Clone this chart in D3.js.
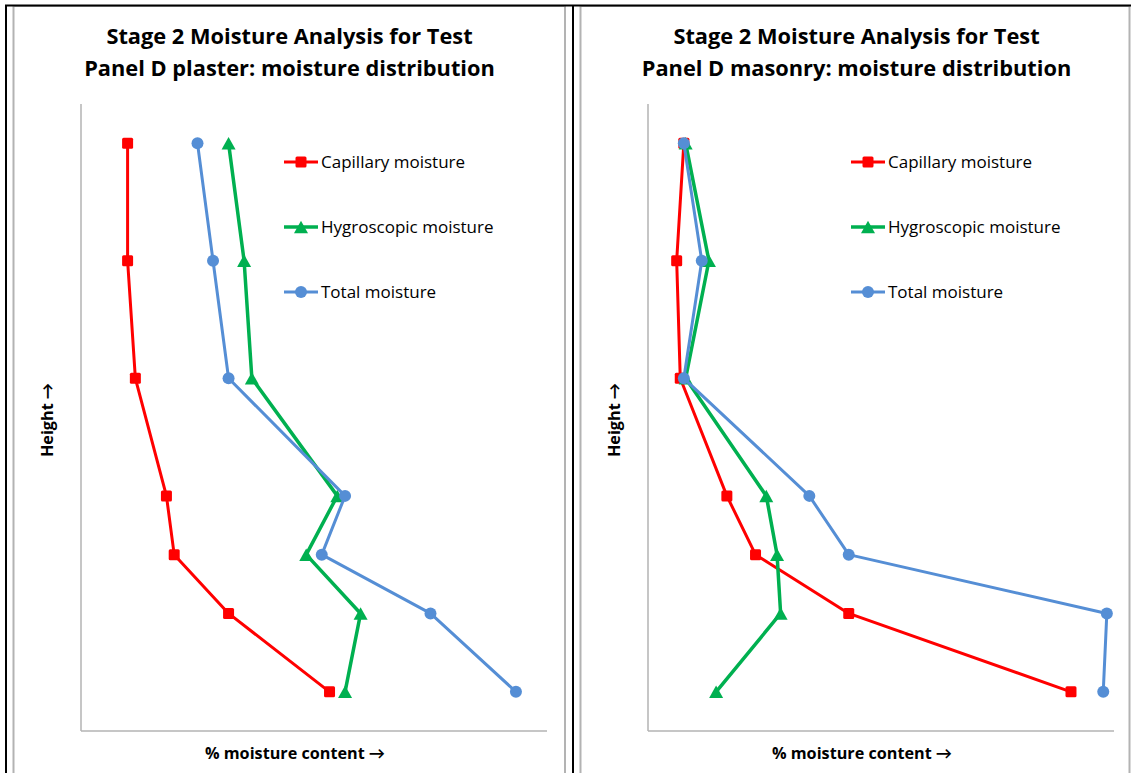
<!DOCTYPE html>
<html>
<head>
<meta charset="utf-8">
<script src="https://cdn.jsdelivr.net/npm/d3@7"></script>
<style>
body { margin: 0; background: #fff; }
text { font-family: "Open Sans", Lato, sans-serif; fill: #000; }
</style>
</head>
<body>
<script>
var width = 1131, height = 773;

// heights of the sampling points (cm), top to bottom
var heights = [150, 120, 90, 60, 45, 30, 10];
var seriesNames = ["Capillary moisture", "Hygroscopic moisture", "Total moisture"];

var plasterCapillary = [-0.4, -0.4, -0.3, 0.1, 0.2, 0.9, 2.2];
var plasterHygroscopic = [0.9, 1.1, 1.2, 2.3, 1.9, 2.6, 2.4];
var plasterTotal = [0.5, 0.7, 0.9, 2.4, 2.1, 3.5, 4.6];

var masonryCapillary = [0.0, -0.2, -0.1, 1.2, 2.0, 4.6, 10.8];
var masonryHygroscopic = [0.05, 0.7, 0.05, 2.3, 2.6, 2.7, 0.9];
var masonryTotal = [0.0, 0.5, 0.0, 3.5, 4.6, 11.8, 11.7];

var plasterTitle = ["Stage 2 Moisture Analysis for Test", "Panel D plaster: moisture distribution"];
var masonryTitle = ["Stage 2 Moisture Analysis for Test", "Panel D masonry: moisture distribution"];

var colors = ["#ff0000", "#00b050", "#558ed5"];
var shapes = ["square", "triangle", "circle"];

var svg = d3.select("body").append("svg")
    .attr("width", width).attr("height", height);

// table-ish frame
var grey = "#b3b3b3";
svg.append("rect").attr("x", 13.5).attr("y", 6).attr("width", 551.5).attr("height", 800)
    .attr("fill", "none").attr("stroke", grey).attr("stroke-width", 2);
svg.append("rect").attr("x", 580.5).attr("y", 6).attr("width", 549).attr("height", 800)
    .attr("fill", "none").attr("stroke", grey).attr("stroke-width", 2);
svg.append("line").attr("x1", 5).attr("x2", width).attr("y1", 5.5).attr("y2", 5.5)
    .attr("stroke", "#000").attr("stroke-width", 2);
[6, 573].forEach(function(x) {
  svg.append("line").attr("x1", x).attr("x2", x).attr("y1", 5).attr("y2", height)
      .attr("stroke", "#000").attr("stroke-width", 2);
});

function marker(sel, shape, color, s) {
  if (shape == "square") {
    sel.append("rect").attr("x", -s / 2).attr("y", -s / 2).attr("width", s).attr("height", s)
        .attr("rx", 1.5).attr("fill", color);
  } else if (shape == "circle") {
    sel.append("circle").attr("r", s / 2 + 0.5).attr("fill", color);
  } else {
    var w = s + 3, h = s + 1.5;
    sel.append("path").attr("d", "M0," + (-h / 2) + "L" + (w / 2) + "," + (h / 2) + "L" + (-w / 2) + "," + (h / 2) + "Z")
        .attr("fill", color);
  }
}

function drawPanel(dx, title, series, xDomain) {
  var g = svg.append("g").attr("transform", "translate(" + dx + ",0)");
  var left = 81, right = 547, top = 104, bottom = 731;

  var x = d3.scaleLinear().domain(xDomain).range([left, right]);
  var y = d3.scaleLinear().domain([0, 160]).range([bottom, top]);

  g.selectAll(".title").data(title).enter().append("text")
      .attr("x", 289.5).attr("y", function(d, i) { return 44 + i * 32; })
      .attr("text-anchor", "middle").style("font-weight", "bold").style("font-size", "21.8px")
      .text(function(d) { return d; });

  g.append("line").attr("x1", left).attr("x2", left).attr("y1", top).attr("y2", bottom)
      .attr("stroke", grey).attr("stroke-width", 1.5);
  g.append("line").attr("x1", left).attr("x2", right).attr("y1", bottom).attr("y2", bottom)
      .attr("stroke", grey).attr("stroke-width", 1.5);

  g.append("text").attr("x", 295).attr("y", 759).attr("text-anchor", "middle")
      .style("font-weight", "bold").style("font-size", "16.2px").text("% moisture content →");
  g.append("text").attr("transform", "translate(53,420) rotate(-90)").attr("text-anchor", "middle")
      .style("font-weight", "bold").style("font-size", "16.2px").text("Height →");

  var line = d3.line().x(function(d) { return x(d[0]); }).y(function(d) { return y(d[1]); });

  series.forEach(function(vals, k) {
    var pts = vals.map(function(v, i) { return [v, heights[i]]; });
    g.append("path").attr("d", line(pts)).attr("fill", "none")
        .attr("stroke", colors[k]).attr("stroke-width", k == 1 ? 3.5 : 3)
        .attr("stroke-linejoin", "round");
    g.selectAll(".m" + k).data(pts).enter().append("g").attr("class", "m" + k)
        .attr("transform", function(d) { return "translate(" + x(d[0]) + "," + y(d[1]) + ")"; })
        .each(function() { marker(d3.select(this), shapes[k], colors[k], 11); });
  });

  var legend = g.selectAll(".legend").data(seriesNames).enter().append("g")
      .attr("transform", function(d, i) { return "translate(284," + (162 + i * 65) + ")"; });
  legend.append("line").attr("x1", 0).attr("x2", 34).attr("stroke", function(d, i) { return colors[i]; })
      .attr("stroke-width", function(d, i) { return i == 1 ? 3.5 : 3; });
  legend.append("g").attr("transform", "translate(17,0)")
      .each(function(d, i) { marker(d3.select(this), shapes[i], colors[i], 11); });
  legend.append("text").attr("x", 37).attr("y", 6).style("font-size", "17px").text(function(d) { return d; });
}

drawPanel(0, plasterTitle, [plasterCapillary, plasterHygroscopic, plasterTotal], [-1, 5]);
drawPanel(567, masonryTitle, [masonryCapillary, masonryHygroscopic, masonryTotal], [-1, 12]);
</script>
</body>
</html>
